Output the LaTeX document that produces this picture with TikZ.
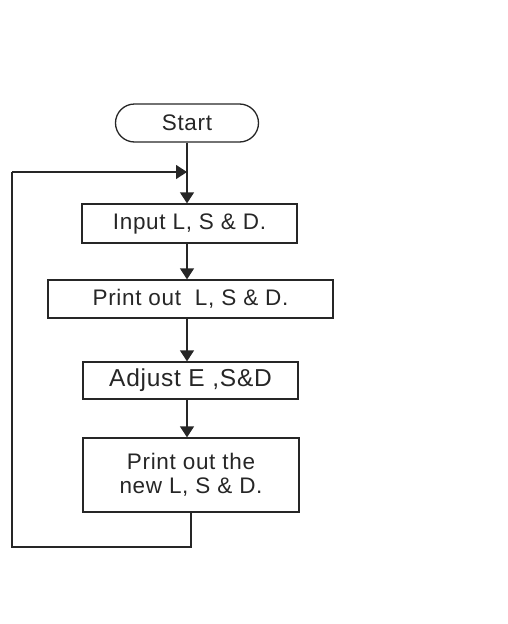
\documentclass[tikz,border=0pt]{standalone}
\usepackage{fontspec}
\setmainfont[LetterSpace=3]{Liberation Sans}
\usetikzlibrary{arrows.meta}
\begin{document}
\begin{tikzpicture}[x=1pt,y=-1pt,
  every node/.style={font=\fontsize{22.5}{24}\selectfont, text=black!85},
  box/.style={draw=black!85, line width=1.3pt, align=center, inner sep=0pt},
  conn/.style={draw=black!85, line width=1.3pt},
  arr/.style={conn, -{Triangle[length=11pt,width=14pt]}}]
\useasboundingbox (0,0) rectangle (508,624);
\node[box, rounded corners=19pt, minimum width=143pt, minimum height=38pt] (start) at (187,123) {Start};
\node[box, minimum width=215pt, minimum height=39pt] (in) at (189.5,223.5) {Input L, S \& D.};
\node[box, minimum width=285pt, minimum height=38pt] (pr) at (190.5,299) {Print out\ \ L, S \& D.};
\node[box, minimum width=215pt, minimum height=37pt, font=\fontsize{24.5}{26}\selectfont] (adj) at (190.5,380.5) {Adjust E ,S\&D};
\node[box, minimum width=216pt, minimum height=74pt] (new) at (191,475) {Print out the\\new L, S \& D.};
\coordinate (j) at (187,172);
\coordinate (lb) at (12,547);
\coordinate (lt) at (12,172);
\draw[arr] (start.south) -- (start.south |- in.north);
\draw[arr] (in.south -| start.south) -- (start.south |- pr.north);
\draw[arr] (pr.south -| start.south) -- (start.south |- adj.north);
\draw[arr] (adj.south -| start.south) -- (start.south |- new.north);
\draw[conn] (new.south) |- (lb) -- (lt);
\draw[arr] (lt) -- (j);
\end{tikzpicture}
\end{document}
